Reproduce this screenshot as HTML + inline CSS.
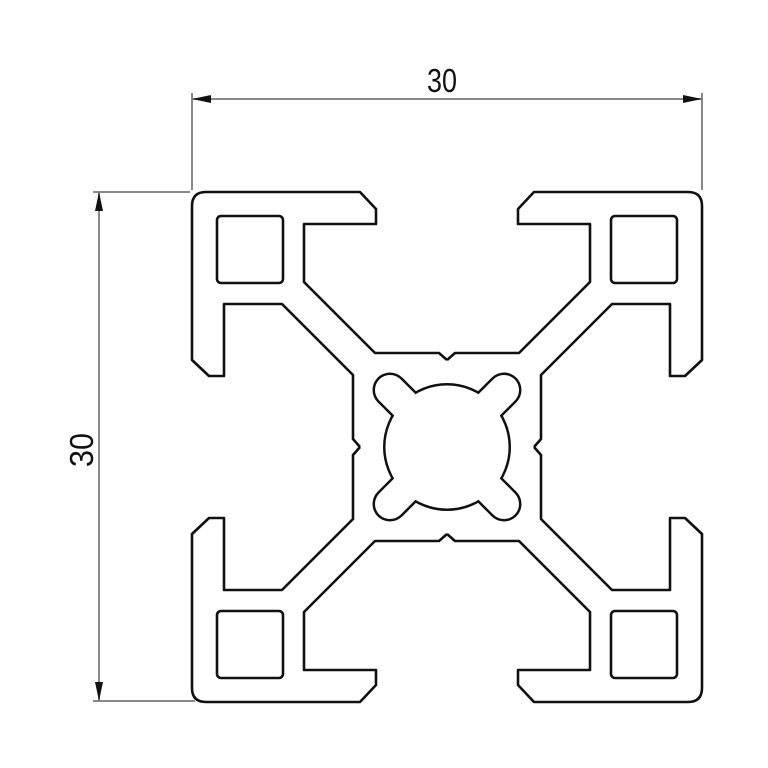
<!DOCTYPE html>
<html><head><meta charset="utf-8"><style>html,body{margin:0;padding:0;background:#fff}svg{display:block}</style></head>
<body>
<svg width="768" height="768" viewBox="0 0 768 768" xmlns="http://www.w3.org/2000/svg">
<rect width="768" height="768" fill="#fff"/>
<!-- dimension lines -->
<g stroke="#888" stroke-width="2" fill="none">
  <line x1="192" y1="93" x2="192" y2="190"/>
  <line x1="702" y1="93" x2="702" y2="190"/>
  <line x1="192" y1="99" x2="702" y2="99"/>
  <line x1="93" y1="192" x2="190" y2="192"/>
  <line x1="93" y1="701" x2="195" y2="701"/>
  <line x1="99" y1="192" x2="99" y2="701"/>
</g>
<g fill="#111">
  <polygon points="192,99 211,95 211,103"/>
  <polygon points="702,99 683,95 683,103"/>
  <polygon points="99,192 95,211 103,211"/>
  <polygon points="99,701 95,682 103,682"/>
</g>
<text x="442" y="92" font-family="Liberation Sans, sans-serif" font-size="33" text-anchor="middle" textLength="30" lengthAdjust="spacingAndGlyphs" fill="#111">30</text>
<text transform="translate(93,450) rotate(-90)" x="0" y="0" font-family="Liberation Sans, sans-serif" font-size="33" text-anchor="middle" textLength="34" lengthAdjust="spacingAndGlyphs" fill="#111">30</text>
<!-- profile -->
<defs>
  <path id="q" d="M447,360 L439,353 L375,353 L304,282 L304,224 L376,224 L376,209 L360,192 L206,192 Q192,192 192,206 L192,360 L209,376 L224,376 L224,304 L282,304 L353,375 L353,439 L360,447"/>
  <rect id="c" x="217" y="216" width="66" height="67" rx="4"/>
</defs>
<g fill="none" stroke="#111" stroke-width="2.6" stroke-linejoin="round">
  <use href="#q"/>
  <use href="#q" transform="translate(894,0) scale(-1,1)"/>
  <use href="#q" transform="translate(0,894) scale(1,-1)"/>
  <use href="#q" transform="translate(894,894) scale(-1,-1)"/>
  <use href="#c"/>
  <use href="#c" transform="translate(894,0) scale(-1,1)"/>
  <use href="#c" transform="translate(0,894) scale(1,-1)"/>
  <use href="#c" transform="translate(894,894) scale(-1,-1)"/>
</g>
<!-- center hole: union outline -->
<g stroke="#111" fill="#111">
  <circle cx="447" cy="447" r="63.5"/>
  <g stroke-width="35" stroke-linecap="round">
    <line x1="447" y1="447" x2="390" y2="390"/>
    <line x1="447" y1="447" x2="504" y2="390"/>
    <line x1="447" y1="447" x2="390" y2="504"/>
    <line x1="447" y1="447" x2="504" y2="504"/>
  </g>
</g>
<g stroke="#fff" fill="#fff">
  <circle cx="447" cy="447" r="61"/>
  <g stroke-width="30" stroke-linecap="round">
    <line x1="447" y1="447" x2="390" y2="390"/>
    <line x1="447" y1="447" x2="504" y2="390"/>
    <line x1="447" y1="447" x2="390" y2="504"/>
    <line x1="447" y1="447" x2="504" y2="504"/>
  </g>
</g>
</svg>
</body></html>
